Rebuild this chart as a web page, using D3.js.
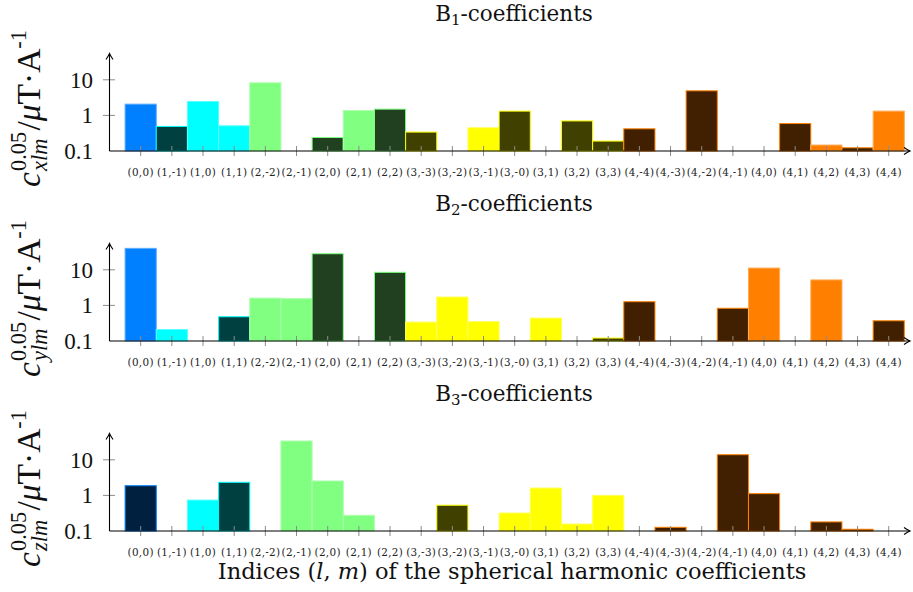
<!DOCTYPE html>
<html>
<head>
<meta charset="utf-8">
<script src="https://cdn.jsdelivr.net/npm/d3@7"></script>
<style>
  html, body { margin: 0; padding: 0; background: #fff; }
  svg { display: block; }
</style>
</head>
<body>
<svg id="chart" width="913" height="592"></svg>
<script>
// ---------------- data ----------------
const categories = ["(0,0)","(1,-1)","(1,0)","(1,1)","(2,-2)","(2,-1)","(2,0)","(2,1)","(2,2)",
  "(3,-3)","(3,-2)","(3,-1)","(3,-0)","(3,1)","(3,2)","(3,3)",
  "(4,-4)","(4,-3)","(4,-2)","(4,-1)","(4,0)","(4,1)","(4,2)","(4,3)","(4,4)"];
// signed magnitudes: negative = dark (shaded) bar, null = no bar
const b1Values = [2.07,-0.49,2.46,0.51,8.24,0.1,-0.24,1.37,-1.5,-0.34,0.1,0.45,-1.32,0.1,-0.70,-0.19,
  -0.42,0.1,-4.9,0.1,0.1,-0.59,0.147,-0.123,1.32];
const b2Values = [40,0.21,null,-0.48,1.6,1.55,-28.3,null,-8.5,0.34,1.72,0.35,null,0.44,null,-0.121,
  -1.27,null,null,-0.83,11.2,null,5.2,null,-0.37];
const b3Values = [-1.87,null,0.74,-2.33,null,33.7,2.54,0.276,null,null,-0.53,null,0.32,1.61,0.157,1.0,
  null,-0.127,null,-13.9,-1.12,null,-0.18,-0.112,null];
const panelTitles = [["B","1"],["B","2"],["B","3"]];
const panelSubs = ["xlm","ylm","zlm"];
const yTickValues = [0.1, 1, 10];
const yTickLabels = ["0.1","1","10"];
const degreeColors = ["#007fff","#00ffff","#80ff80","#ffff00","#ff8000"];

// ---------------- layout ----------------
const svg = d3.select("#chart");
const serif = "'DejaVu Serif', serif";
const serif2 = "'Liberation Serif', serif";
const axisX = 109.5, axisRight = 910;
const baselines = [151, 341, 531];
const decade = 35.6;
const x = d3.scaleBand().domain(categories).range([125.1, 904.3]).paddingInner(0).paddingOuter(0);

function degreeOf(c) { return +c.slice(1, c.indexOf(",")); }
function darken(c) { const r = d3.rgb(c); return d3.rgb(r.r*0.25, r.g*0.25, r.b*0.25).formatHex(); }

const allValues = [b1Values, b2Values, b3Values];

allValues.forEach((vals, pi) => {
  const base = baselines[pi];
  const y = d3.scaleLog().domain([0.1, 10]).range([base, base - 2*decade]);
  const g = svg.append("g");
  const data = categories.map((c, i) => ({c, v: vals[i], l: degreeOf(c)})).filter(d => d.v !== null);

  // bars
  g.selectAll("rect.bar").data(data).join("rect")
    .attr("x", d => x(d.c))
    .attr("width", x.bandwidth())
    .attr("y", d => y(Math.abs(d.v)))
    .attr("height", d => Math.max(0, base - y(Math.abs(d.v))))
    .attr("fill", d => d.v < 0 ? darken(degreeColors[d.l]) : degreeColors[d.l])
    .attr("stroke", d => d.v < 0 ? degreeColors[d.l] : d3.interpolateRgb(degreeColors[d.l], "#fff")(0.35))
    .attr("stroke-opacity", d => Math.abs(d.v) <= 0.1 ? 0.35 : 1)
    .attr("stroke-width", 1);

  // x ticks
  g.selectAll("line.xt").data(categories).join("line")
    .attr("x1", d => x(d) + x.bandwidth()/2).attr("x2", d => x(d) + x.bandwidth()/2)
    .attr("y1", base - 5).attr("y2", base + 5)
    .attr("stroke", "#8c8c8c").attr("stroke-width", 1);

  // y ticks
  g.selectAll("line.yt").data(yTickValues.slice(1)).join("line")
    .attr("x1", axisX - 6.5).attr("x2", axisX + 5.5)
    .attr("y1", d => y(d)).attr("y2", d => y(d))
    .attr("stroke", "#8c8c8c").attr("stroke-width", 1);

  // axes lines
  g.append("line").attr("x1", axisX).attr("x2", axisRight).attr("y1", base).attr("y2", base)
    .attr("stroke", "#000").attr("stroke-width", 1.1);
  const top = base - 97.5;
  g.append("line").attr("x1", axisX).attr("x2", axisX).attr("y1", base).attr("y2", top + 1)
    .attr("stroke", "#000").attr("stroke-width", 1.1);
  // arrowheads
  g.append("path").attr("d", `M${axisX-3.5},${top+6} Q${axisX-0.8},${top+2} ${axisX},${top} Q${axisX+0.8},${top+2} ${axisX+3.5},${top+6}`)
    .attr("fill", "none").attr("stroke", "#000").attr("stroke-width", 1.1);
  g.append("path").attr("d", `M${axisRight-6},${base-3.5} Q${axisRight-2},${base-0.8} ${axisRight},${base} Q${axisRight-2},${base+0.8} ${axisRight-6},${base+3.5}`)
    .attr("fill", "none").attr("stroke", "#000").attr("stroke-width", 1.1);

  // x tick labels
  g.selectAll("text.xl").data(categories).join("text")
    .attr("x", d => x(d) + x.bandwidth()/2)
    .attr("y", base + 24.5)
    .attr("text-anchor", "middle")
    .attr("font-family", serif)
    .attr("font-size", 10.4)
    .attr("letter-spacing", 0.3)
    .attr("fill", "#222")
    .text(d => d);

  // y tick labels
  g.selectAll("text.yl").data(yTickValues).join("text")
    .attr("x", 93).attr("y", d => y(d))
    .attr("dy", "0.35em")
    .attr("text-anchor", "end")
    .attr("font-family", serif2)
    .attr("font-size", 23)
    .attr("fill", "#111")
    .text((d, i) => yTickLabels[i]);

  // title
  const t = g.append("text").attr("x", 514).attr("y", base - 130.5)
    .attr("text-anchor", "middle").attr("font-family", serif).attr("font-size", 21.5).attr("fill", "#111");
  t.append("tspan").text(panelTitles[pi][0]);
  t.append("tspan").attr("font-size", 15).attr("dy", 4).text(panelTitles[pi][1]);
  t.append("tspan").attr("dy", -4).text("-coefficients");

  // y label (rotated)
  const cy = base - 42.5;
  const yl = g.append("g").attr("transform", `translate(40,${cy}) rotate(-90)`);
  const inner = yl.append("g");
  const F = 27, fs = 18;
  let cx = 0;
  function piece(txt, size, dy, italic) {
    const el = inner.append("text").attr("x", cx).attr("y", dy)
      .attr("font-family", serif2).attr("font-size", size)
      .attr("font-style", italic ? "italic" : "normal").attr("fill", "#111").text(txt);
    return el;
  }
  let e = piece("c", F, 0, true); cx += e.node().getComputedTextLength() + 1;
  const s1 = piece("0.05", fs, -11, false);
  const s2 = piece(panelSubs[pi], fs, 6, true);
  cx += Math.max(s1.node().getComputedTextLength(), s2.node().getComputedTextLength()) + 1;
  e = piece("/", F, 0, false); cx += e.node().getComputedTextLength();
  e = piece("\u03bc", F, 0, true); cx += e.node().getComputedTextLength();
  e = piece("T\u00b7A", F, 0, false); cx += e.node().getComputedTextLength();
  e = piece("-1", fs, -11, false); cx += e.node().getComputedTextLength();
  const target = 157;
  const k = target / cx;
  inner.attr("transform", `scale(${k}) translate(${-cx/2},0)`);
});

// bottom label
const bl = svg.append("text").attr("x", 512).attr("y", 578.5)
  .attr("text-anchor", "middle").attr("font-family", serif).attr("font-size", 21.5).attr("fill", "#111");
bl.append("tspan").text("Indices (");
bl.append("tspan").attr("font-style", "italic").text("l");
bl.append("tspan").text(", ");
bl.append("tspan").attr("font-style", "italic").text("m");
bl.append("tspan").text(") of the spherical harmonic coefficients");
const w = bl.node().getComputedTextLength();
bl.attr("font-size", 21.5 * 589 / w);
</script>
</body>
</html>
